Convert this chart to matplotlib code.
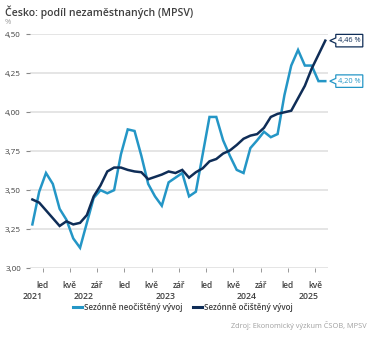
import numpy as np
import matplotlib
matplotlib.use("Agg")
import matplotlib.pyplot as plt
from matplotlib.patches import Polygon
from matplotlib.lines import Line2D

plt.rcParams['font.family'] = ['Open Sans', 'DejaVu Sans']

# months Nov 2021 .. Jun 2025
month_names = ["led", "úno", "bře", "dub", "kvě", "čer", "čvc", "srp", "zář", "říj", "lis", "pro"]
start_year = 2021
start_month = 11  # listopad
n_months = 44

# sezonne neocisteny vyvoj (%)
raw = [3.28, 3.49, 3.61, 3.54, 3.38, 3.31, 3.19, 3.13, 3.29, 3.45, 3.50, 3.48,
       3.50, 3.73, 3.89, 3.88, 3.72, 3.54, 3.46, 3.40, 3.55, 3.58, 3.61, 3.46,
       3.49, 3.73, 3.97, 3.97, 3.82, 3.72, 3.63, 3.61, 3.77, 3.82, 3.875, 3.84,
       3.86, 4.11, 4.30, 4.40, 4.30, 4.30, 4.20, 4.20]
# sezonne ocisteny vyvoj (%)
sa = [3.44, 3.42, 3.37, 3.32, 3.27, 3.30, 3.28, 3.29, 3.34, 3.46, 3.53, 3.62,
      3.645, 3.645, 3.63, 3.62, 3.615, 3.57, 3.585, 3.60, 3.62, 3.61, 3.63, 3.58,
      3.615, 3.64, 3.685, 3.70, 3.735, 3.755, 3.79, 3.83, 3.85, 3.86, 3.90, 3.97,
      3.99, 4.00, 4.01, 4.09, 4.17, 4.28, 4.37, 4.46]

yticks = [3.00, 3.25, 3.50, 3.75, 4.00, 4.25, 4.50]

light = "#2496c6"
dark = "#0f2d57"
grid_c = "#e3e3e3"
text_c = "#404040"

months = [(start_month - 1 + i) % 12 for i in range(n_months)]
years = [start_year + (start_month - 1 + i) // 12 for i in range(n_months)]
x = np.arange(n_months)

fig = plt.figure(figsize=(3.73, 3.39), dpi=100)
ax = fig.add_axes([0.0804, 0.2094, 0.799, 0.6891])

for v in yticks:
    ax.axhline(v, color=grid_c, lw=1.3, zorder=0)

ax.plot(x, raw, color=light, lw=1.8, solid_joinstyle='miter', zorder=3)
ax.plot(x, sa, color=dark, lw=1.8, solid_joinstyle='miter', zorder=4)

ax.set_xlim(-0.35, 43.4)
ax.set_ylim(3.0, 4.5)
ax.set_yticks(yticks)
ax.set_yticklabels([f"{v:.2f}".replace(".", ",") for v in yticks],
                   fontsize=5.8, color=text_c)
ax.tick_params(axis='y', length=3, width=0.8, color="#888888", pad=3.5)

# ticks on category boundaries every 4 months starting January
tick_pos = [i - 0.5 for i in range(n_months) if months[i] in (0, 4, 8)]
tick_lab = [month_names[months[i]] for i in range(n_months) if months[i] in (0, 4, 8)]
ax.set_xticks(tick_pos)
ax.set_xticklabels(tick_lab, fontsize=6, color=text_c, fontweight='semibold')
ax.tick_params(axis='x', length=3, width=0.6, color="#888888", pad=6)

for s in ax.spines.values():
    s.set_visible(False)

# year labels centred on each year's months
for yr in sorted(set(years)):
    idx = [i for i in range(n_months) if years[i] == yr]
    c = (idx[0] + idx[-1]) / 2
    if len(idx) < 3:
        c = idx[0]
    ax.text(c, -0.12, str(yr), transform=ax.get_xaxis_transform(),
            ha='center', va='center', fontsize=6.3, color=text_c,
            fontweight='semibold')

# title, unit, source
fig.text(5 / 373, 1 - 12 / 339, "Česko: podíl nezaměstnaných (MPSV)",
         fontsize=7.6, fontweight='semibold', color=text_c, va='center')
fig.text(5 / 373, 1 - 22 / 339, "%", fontsize=5.5, color="#999999", va='center')
fig.text(367 / 373, 1 - 326 / 339, "Zdroj: Ekonomický výzkum ČSOB, MPSV",
         fontsize=5.3, color="#a0a0a0", ha='right', va='center')

# legend
handles = [Line2D([], [], color=light, lw=2.2), Line2D([], [], color=dark, lw=2.2)]
leg = fig.legend(handles, ["Sezónně neočištěný vývoj", "Sezónně očištěný vývoj"],
                 loc='center', bbox_to_anchor=(183 / 373, 1 - 307 / 339), ncol=2,
                 frameon=False, fontsize=5.8, handlelength=1.1, handletextpad=0.3,
                 columnspacing=1.3, labelcolor=text_c)
for t in leg.get_texts():
    t.set_fontweight('semibold')

# end value callouts
def callout(val, col):
    px, py = ax.transData.transform((n_months - 1, val))
    tip = px + 4.5
    bl = tip + 6
    w, h = 27, 12.5
    verts = [(tip, py), (bl, py + 2.7), (bl, py + h / 2), (bl + w, py + h / 2),
             (bl + w, py - h / 2), (bl, py - h / 2), (bl, py - 2.7)]
    fig.patches.append(Polygon(verts, closed=True, transform=None, fc='white',
                               ec=col, lw=0.9, zorder=5))
    fig.text((bl + w / 2) / fig.bbox.width, py / fig.bbox.height,
             f"{val:.2f} %".replace(".", ","), ha='center', va='center',
             fontsize=5.3, color=col, zorder=6)

callout(sa[-1], dark)
callout(raw[-1], light)

fig.savefig("out.png", dpi=100, facecolor='white')
